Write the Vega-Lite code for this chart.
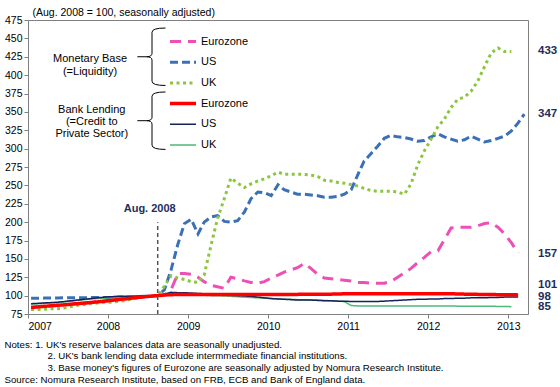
{
"$schema": "https://vega.github.io/schema/vega-lite/v6.json",
"width": 500, "height": 294,
"autosize": {"type": "none"},
"padding": {"left": 28, "top": 20, "right": 32, "bottom": 73},
"config": {
  "font": "Liberation Sans",
  "view": {"stroke": "#808080", "strokeWidth": 1},
  "axis": {"grid": false, "domainColor": "#808080", "tickColor": "#808080", "tickSize": 4, "labelFontSize": 10.5, "labelColor": "#000", "labelFont": "Liberation Sans"}
},
"title": {
  "text": ["Notes: 1. UK's reserve balances data are seasonally unadjusted.",
           "\u200b\u00a0\u00a0\u00a0\u00a0\u00a0\u00a0\u00a0\u00a0\u00a0\u00a0\u00a0\u00a0\u00a0\u00a0\u00a0\u00a02. UK's bank lending data exclude intermmediate financial institutions.",
           "\u200b\u00a0\u00a0\u00a0\u00a0\u00a0\u00a0\u00a0\u00a0\u00a0\u00a0\u00a0\u00a0\u00a0\u00a0\u00a0\u00a03. Base money's figures of Eurozone are seasonally adjusted by Nomura Research Institute.",
           "Source: Nomura Research Institute, based on FRB, ECB and Bank of England data."],
  "orient": "bottom", "anchor": "start", "frame": "bounds", "fontSize": 9.7, "fontWeight": "normal", "lineHeight": 11.7, "offset": 8, "color": "#000", "font": "Liberation Sans"
},
"data": {"values": [
{"d":"2007-01-15","mbEZ":84,"mbUS":96.5,"mbUK":81,"blEZ":84,"blUS":89,"blUK":88.5},
{"d":"2007-02-15","mbEZ":84.7,"mbUS":96.5,"mbUK":81,"blEZ":84.7,"blUS":89.5,"blUK":89},
{"d":"2007-03-15","mbEZ":85.4,"mbUS":96.6,"mbUK":81.5,"blEZ":85.4,"blUS":90,"blUK":89.5},
{"d":"2007-04-15","mbEZ":86.1,"mbUS":96.7,"mbUK":82,"blEZ":86.1,"blUS":90.5,"blUK":90},
{"d":"2007-05-15","mbEZ":86.8,"mbUS":96.8,"mbUK":82,"blEZ":86.8,"blUS":91,"blUK":90.5},
{"d":"2007-06-15","mbEZ":87.5,"mbUS":97,"mbUK":83,"blEZ":87.5,"blUS":92,"blUK":91.5},
{"d":"2007-07-15","mbEZ":88.3,"mbUS":97,"mbUK":85,"blEZ":88.3,"blUS":93,"blUK":92.5},
{"d":"2007-08-15","mbEZ":89.1,"mbUS":97.1,"mbUK":87,"blEZ":89.1,"blUS":94,"blUK":93.5},
{"d":"2007-09-15","mbEZ":89.9,"mbUS":97.2,"mbUK":88,"blEZ":89.9,"blUS":95,"blUK":94.5},
{"d":"2007-10-15","mbEZ":90.7,"mbUS":97.3,"mbUK":89,"blEZ":90.7,"blUS":96,"blUK":95.5},
{"d":"2007-11-15","mbEZ":91.5,"mbUS":97.4,"mbUK":90,"blEZ":91.5,"blUS":97,"blUK":96},
{"d":"2007-12-15","mbEZ":92.5,"mbUS":97.5,"mbUK":91,"blEZ":92.5,"blUS":98,"blUK":96.5},
{"d":"2008-01-15","mbEZ":93.5,"mbUS":97.6,"mbUK":91,"blEZ":93.5,"blUS":98.5,"blUK":97},
{"d":"2008-02-15","mbEZ":94.5,"mbUS":97.8,"mbUK":92,"blEZ":94.5,"blUS":99,"blUK":97.5},
{"d":"2008-03-15","mbEZ":95.5,"mbUS":98,"mbUK":93,"blEZ":95.5,"blUS":99,"blUK":98},
{"d":"2008-04-15","mbEZ":96.5,"mbUS":98.3,"mbUK":95,"blEZ":96.5,"blUS":99,"blUK":98.5},
{"d":"2008-05-15","mbEZ":97.5,"mbUS":98.6,"mbUK":97,"blEZ":97.5,"blUS":99.5,"blUK":99},
{"d":"2008-06-15","mbEZ":98.5,"mbUS":99,"mbUK":98,"blEZ":98.5,"blUS":99.5,"blUK":99.5},
{"d":"2008-07-15","mbEZ":99.3,"mbUS":99.3,"mbUK":99,"blEZ":99.3,"blUS":100,"blUK":99.5},
{"d":"2008-08-15","mbEZ":100,"mbUS":100,"mbUK":100,"blEZ":100,"blUS":100,"blUK":100},
{"d":"2008-09-15","mbEZ":101,"mbUS":108,"mbUK":113,"blEZ":100.8,"blUS":102,"blUK":101},
{"d":"2008-10-15","mbEZ":108,"mbUS":135,"mbUK":127,"blEZ":101.3,"blUS":104.5,"blUK":102},
{"d":"2008-11-15","mbEZ":130,"mbUS":170,"mbUK":124,"blEZ":101.5,"blUS":104,"blUK":102},
{"d":"2008-12-15","mbEZ":130,"mbUS":198,"mbUK":122,"blEZ":101.5,"blUS":104,"blUK":101.5},
{"d":"2009-01-15","mbEZ":129,"mbUS":204,"mbUK":119,"blEZ":101.5,"blUS":103.5,"blUK":101},
{"d":"2009-02-15","mbEZ":125,"mbUS":184,"mbUK":118,"blEZ":101.5,"blUS":103,"blUK":101},
{"d":"2009-03-15","mbEZ":119,"mbUS":200,"mbUK":128,"blEZ":101.5,"blUS":102.5,"blUK":100.5},
{"d":"2009-04-15","mbEZ":114,"mbUS":207,"mbUK":168,"blEZ":101.5,"blUS":102,"blUK":100},
{"d":"2009-05-15","mbEZ":112,"mbUS":209,"mbUK":205,"blEZ":101.5,"blUS":101.5,"blUK":100},
{"d":"2009-06-15","mbEZ":110,"mbUS":201,"mbUK":232,"blEZ":101.5,"blUS":101,"blUK":99.5},
{"d":"2009-07-15","mbEZ":125,"mbUS":200,"mbUK":260,"blEZ":101.5,"blUS":100.5,"blUK":99},
{"d":"2009-08-15","mbEZ":123,"mbUS":202,"mbUK":253,"blEZ":101.5,"blUS":100,"blUK":98.5},
{"d":"2009-09-15","mbEZ":120,"mbUS":214,"mbUK":247,"blEZ":101.5,"blUS":99.5,"blUK":98},
{"d":"2009-10-15","mbEZ":118,"mbUS":232,"mbUK":252,"blEZ":101.5,"blUS":99,"blUK":97.5},
{"d":"2009-11-15","mbEZ":117,"mbUS":241,"mbUK":256,"blEZ":101.5,"blUS":98,"blUK":97},
{"d":"2009-12-15","mbEZ":119,"mbUS":240,"mbUK":259,"blEZ":101.5,"blUS":97,"blUK":96.5},
{"d":"2010-01-15","mbEZ":124,"mbUS":236,"mbUK":263,"blEZ":101.5,"blUS":96,"blUK":96},
{"d":"2010-02-15","mbEZ":128,"mbUS":251,"mbUK":268,"blEZ":101.5,"blUS":95.5,"blUK":95.5},
{"d":"2010-03-15","mbEZ":132,"mbUS":244,"mbUK":265,"blEZ":101.5,"blUS":95,"blUK":95},
{"d":"2010-04-15","mbEZ":135,"mbUS":241,"mbUK":265,"blEZ":101.5,"blUS":94.5,"blUK":95},
{"d":"2010-05-15","mbEZ":138,"mbUS":238,"mbUK":265,"blEZ":101.7,"blUS":94,"blUK":94.5},
{"d":"2010-06-15","mbEZ":144,"mbUS":238,"mbUK":265,"blEZ":102,"blUS":94,"blUK":94.5},
{"d":"2010-07-15","mbEZ":137,"mbUS":237,"mbUK":264,"blEZ":102,"blUS":94,"blUK":94},
{"d":"2010-08-15","mbEZ":129,"mbUS":236,"mbUK":262,"blEZ":102,"blUS":93.5,"blUK":94},
{"d":"2010-09-15","mbEZ":124,"mbUS":234,"mbUK":257,"blEZ":102,"blUS":93,"blUK":93.5},
{"d":"2010-10-15","mbEZ":123,"mbUS":234,"mbUK":256,"blEZ":102,"blUS":93,"blUK":93},
{"d":"2010-11-15","mbEZ":122,"mbUS":235,"mbUK":254,"blEZ":102.2,"blUS":92.5,"blUK":92.5},
{"d":"2010-12-15","mbEZ":121,"mbUS":238,"mbUK":253,"blEZ":102.5,"blUS":92.5,"blUK":92},
{"d":"2011-01-15","mbEZ":120,"mbUS":244,"mbUK":251,"blEZ":102.5,"blUS":92,"blUK":86.5},
{"d":"2011-02-15","mbEZ":118,"mbUS":265,"mbUK":249,"blEZ":102.7,"blUS":92,"blUK":86},
{"d":"2011-03-15","mbEZ":118,"mbUS":283,"mbUK":246,"blEZ":102.7,"blUS":92,"blUK":86},
{"d":"2011-04-15","mbEZ":117,"mbUS":293,"mbUK":243,"blEZ":102.7,"blUS":92,"blUK":86},
{"d":"2011-05-15","mbEZ":117,"mbUS":303,"mbUK":242,"blEZ":102.7,"blUS":92,"blUK":86},
{"d":"2011-06-15","mbEZ":117,"mbUS":314,"mbUK":242,"blEZ":102.7,"blUS":92.5,"blUK":86},
{"d":"2011-07-15","mbEZ":119,"mbUS":318,"mbUK":242,"blEZ":102.7,"blUS":93,"blUK":86},
{"d":"2011-08-15","mbEZ":125,"mbUS":316,"mbUK":241,"blEZ":102.7,"blUS":93.5,"blUK":86},
{"d":"2011-09-15","mbEZ":131,"mbUS":315,"mbUK":238,"blEZ":102.7,"blUS":94,"blUK":86},
{"d":"2011-10-15","mbEZ":137,"mbUS":313,"mbUK":252,"blEZ":102.7,"blUS":94.5,"blUK":86},
{"d":"2011-11-15","mbEZ":145,"mbUS":310,"mbUK":278,"blEZ":102.7,"blUS":95,"blUK":86},
{"d":"2011-12-15","mbEZ":152,"mbUS":311,"mbUK":297,"blEZ":102.7,"blUS":95,"blUK":86},
{"d":"2012-01-15","mbEZ":160,"mbUS":316,"mbUK":313,"blEZ":102.7,"blUS":95.5,"blUK":86},
{"d":"2012-02-15","mbEZ":161,"mbUS":320,"mbUK":330,"blEZ":102.5,"blUS":95.5,"blUK":85.8},
{"d":"2012-03-15","mbEZ":176,"mbUS":316,"mbUK":340,"blEZ":102.5,"blUS":96,"blUK":85.8},
{"d":"2012-04-15","mbEZ":192,"mbUS":313,"mbUK":356,"blEZ":102.5,"blUS":96,"blUK":85.8},
{"d":"2012-05-15","mbEZ":193,"mbUS":310,"mbUK":367,"blEZ":102.3,"blUS":96.5,"blUK":85.7},
{"d":"2012-06-15","mbEZ":193,"mbUS":312,"mbUK":370,"blEZ":102,"blUS":96.5,"blUK":85.7},
{"d":"2012-07-15","mbEZ":193,"mbUS":317,"mbUK":378,"blEZ":102,"blUS":97,"blUK":85.6},
{"d":"2012-08-15","mbEZ":195,"mbUS":313,"mbUK":392,"blEZ":101.7,"blUS":97,"blUK":85.5},
{"d":"2012-09-15","mbEZ":198,"mbUS":309,"mbUK":412,"blEZ":101.5,"blUS":97,"blUK":85.5},
{"d":"2012-10-15","mbEZ":199,"mbUS":311,"mbUK":430,"blEZ":101.5,"blUS":97.5,"blUK":85.5},
{"d":"2012-11-15","mbEZ":193,"mbUS":314,"mbUK":437,"blEZ":101.3,"blUS":97.5,"blUK":85.3},
{"d":"2012-12-15","mbEZ":184,"mbUS":317,"mbUK":432,"blEZ":101.2,"blUS":98,"blUK":85.2},
{"d":"2013-01-15","mbEZ":172,"mbUS":324,"mbUK":432,"blEZ":101.1,"blUS":98,"blUK":85},
{"d":"2013-02-15","mbEZ":158,"mbUS":335,"mbUK":null,"blEZ":101,"blUS":98,"blUK":null},
{"d":"2013-03-15","mbEZ":null,"mbUS":347,"mbUK":null,"blEZ":null,"blUS":null,"blUK":null}
]},
"layer": [
  {
    "encoding": {
      "x": {"field": "d", "type": "temporal",
            "scale": {"type": "utc", "domain": [{"year": 2007, "month": 1, "date": 1, "utc": true}, {"year": 2013, "month": 4, "date": 1, "utc": true}]},
            "axis": {"title": null, "format": "%Y", "tickCount": {"interval": "year", "step": 1}, "labelPadding": 3}},
      "y": {"field": "v", "type": "quantitative",
            "scale": {"domain": [75, 475], "nice": false, "zero": false},
            "axis": {"values": [75,100,125,150,175,200,225,250,275,300,325,350,375,400,425,450,475], "labelPadding": 2,
                     "title": "(Aug. 2008 = 100, seasonally adjusted)", "titleAngle": 0, "titleAlign": "left", "titleBaseline": "middle",
                     "titleX": 4, "titleY": -8, "titleFontWeight": "normal", "titleFontSize": 10.5, "titleColor": "#000", "titleFont": "Liberation Sans"}},
      "color": {"field": "s", "type": "nominal",
        "scale": {"domain": ["mbEZ", "mbUS", "mbUK", "blEZ", "blUS", "blUK"], "range": ["#EE4FB6", "#3A70B6", "#8CC63F", "#FF0000", "#16215A", "#4DB87A"]},
        "legend": {"orient": "none", "legendX": 140, "legendY": 13.5, "title": null, "symbolType": "stroke", "symbolSize": 676,
                   "labelFontSize": 11, "labelColor": "#000", "labelFont": "Liberation Sans", "labelOffset": 3, "rowPadding": 4.7, "clipHeight": 16, "symbolOpacity": 1, "padding": 0,
                   "labelExpr": "indexof(datum.value, 'EZ') >= 0 ? 'Eurozone' : (indexof(datum.value, 'US') >= 0 ? 'US' : 'UK')"}},
      "strokeDash": {"field": "s", "type": "nominal",
        "scale": {"domain": ["mbEZ", "mbUS", "mbUK", "blEZ", "blUS", "blUK"], "range": [[11, 7], [8, 4], [3, 3.5], [1, 0], [1, 0], [1, 0]]}},
      "strokeWidth": {"field": "s", "type": "nominal",
        "scale": {"type": "ordinal", "domain": ["mbEZ", "mbUS", "mbUK", "blEZ", "blUS", "blUK"], "range": [3, 3, 3, 3.5, 1.5, 1.5]}}
    },
    "layer": [
      {
        "transform": [{"fold": ["mbEZ", "mbUS", "mbUK"], "as": ["s", "v"]}, {"filter": "datum.v != null"}],
        "mark": {"type": "line"}
      },
      {
        "transform": [{"fold": ["blUK", "blUS", "blEZ"], "as": ["s", "v"]}, {"filter": "datum.v != null"}],
        "mark": {"type": "line"}
      }
    ]
  },
  {
    "data": {"values": [{"k": 1}]},
    "mark": {"type": "rule", "color": "#555555", "strokeWidth": 1.5, "strokeDash": [4, 3]},
    "encoding": {
      "x": {"datum": {"year": 2008, "month": 8, "date": 15, "utc": true}, "type": "temporal",
            "axis": {"title": null, "format": "%Y", "tickCount": {"interval": "year", "step": 1}, "labelPadding": 3}},
      "y": {"datum": 75,
            "axis": {"values": [75,100,125,150,175,200,225,250,275,300,325,350,375,400,425,450,475], "labelPadding": 2,
                     "title": "(Aug. 2008 = 100, seasonally adjusted)", "titleAngle": 0, "titleAlign": "left", "titleBaseline": "middle",
                     "titleX": 4, "titleY": -8, "titleFontWeight": "normal", "titleFontSize": 10.5, "titleColor": "#000", "titleFont": "Liberation Sans"}},
      "y2": {"datum": 200}
    }
  },
  {
    "data": {"values": [{"t": "Aug. 2008"}]},
    "mark": {"type": "text", "fontWeight": "bold", "fontSize": 11, "color": "#1F2D5C", "dx": -8, "baseline": "middle"},
    "encoding": {
      "x": {"datum": {"year": 2008, "month": 8, "date": 15, "utc": true}, "type": "temporal",
            "axis": {"title": null, "format": "%Y", "tickCount": {"interval": "year", "step": 1}, "labelPadding": 3}},
      "y": {"datum": 218,
            "axis": {"values": [75,100,125,150,175,200,225,250,275,300,325,350,375,400,425,450,475], "labelPadding": 2,
                     "title": "(Aug. 2008 = 100, seasonally adjusted)", "titleAngle": 0, "titleAlign": "left", "titleBaseline": "middle",
                     "titleX": 4, "titleY": -8, "titleFontWeight": "normal", "titleFontSize": 10.5, "titleColor": "#000", "titleFont": "Liberation Sans"}},
      "text": {"field": "t"}
    }
  },
  {
    "data": {"values": [{"lab": "433", "v": 433}, {"lab": "347", "v": 347}, {"lab": "157", "v": 157}, {"lab": "98", "v": 98}, {"lab": "85", "v": 85}]},
    "mark": {"type": "text", "x": "width", "dx": 10, "align": "left", "baseline": "middle", "fontWeight": "bold", "fontSize": 11.5, "color": "#1F2D5C"},
    "encoding": {
      "y": {"field": "v", "type": "quantitative",
            "axis": {"values": [75,100,125,150,175,200,225,250,275,300,325,350,375,400,425,450,475], "labelPadding": 2,
                     "title": "(Aug. 2008 = 100, seasonally adjusted)", "titleAngle": 0, "titleAlign": "left", "titleBaseline": "middle",
                     "titleX": 4, "titleY": -8, "titleFontWeight": "normal", "titleFontSize": 10.5, "titleColor": "#000", "titleFont": "Liberation Sans"}},
      "text": {"field": "lab"}}
  },
  {
    "data": {"values": [{"lab": "101", "v": 101}]},
    "mark": {"type": "text", "x": "width", "dx": 10, "dy": -10, "align": "left", "baseline": "middle", "fontWeight": "bold", "fontSize": 11.5, "color": "#1F2D5C"},
    "encoding": {
      "y": {"field": "v", "type": "quantitative",
            "axis": {"values": [75,100,125,150,175,200,225,250,275,300,325,350,375,400,425,450,475], "labelPadding": 2,
                     "title": "(Aug. 2008 = 100, seasonally adjusted)", "titleAngle": 0, "titleAlign": "left", "titleBaseline": "middle",
                     "titleX": 4, "titleY": -8, "titleFontWeight": "normal", "titleFontSize": 10.5, "titleColor": "#000", "titleFont": "Liberation Sans"}},
      "text": {"field": "lab"}}
  },
  {
    "data": {"values": [{"t": ["Monetary Base", "(=Liquidity)"]}]},
    "mark": {"type": "text", "fontSize": 11, "lineHeight": 12.7, "baseline": "middle", "align": "center", "color": "#000"},
    "encoding": {
      "x": {"datum": {"year": 2007, "month": 10, "date": 11, "utc": true}, "type": "temporal",
            "axis": {"title": null, "format": "%Y", "tickCount": {"interval": "year", "step": 1}, "labelPadding": 3}},
      "y": {"datum": 421.5,
            "axis": {"values": [75,100,125,150,175,200,225,250,275,300,325,350,375,400,425,450,475], "labelPadding": 2,
                     "title": "(Aug. 2008 = 100, seasonally adjusted)", "titleAngle": 0, "titleAlign": "left", "titleBaseline": "middle",
                     "titleX": 4, "titleY": -8, "titleFontWeight": "normal", "titleFontSize": 10.5, "titleColor": "#000", "titleFont": "Liberation Sans"}},
      "text": {"field": "t"}
    }
  },
  {
    "data": {"values": [{"t": ["Bank Lending", "(=Credit to", "Private Sector)"]}]},
    "mark": {"type": "text", "fontSize": 11, "lineHeight": 12.2, "baseline": "middle", "align": "center", "color": "#000"},
    "encoding": {
      "x": {"datum": {"year": 2007, "month": 10, "date": 19, "utc": true}, "type": "temporal",
            "axis": {"title": null, "format": "%Y", "tickCount": {"interval": "year", "step": 1}, "labelPadding": 3}},
      "y": {"datum": 352.5,
            "axis": {"values": [75,100,125,150,175,200,225,250,275,300,325,350,375,400,425,450,475], "labelPadding": 2,
                     "title": "(Aug. 2008 = 100, seasonally adjusted)", "titleAngle": 0, "titleAlign": "left", "titleBaseline": "middle",
                     "titleX": 4, "titleY": -8, "titleFontWeight": "normal", "titleFontSize": 10.5, "titleColor": "#000", "titleFont": "Liberation Sans"}},
      "text": {"field": "t"}
    }
  },
  {
    "data": {"values": [{"k": 1}]},
    "mark": {"type": "point", "shape": "M0.47,-1Q0,-1 0,-0.85L0,-0.12Q0,0 -0.19,0Q0,0 0,0.12L0,0.85Q0,1 0.47,1M-0.19,0L-0.51,0", "filled": false, "stroke": "#000", "strokeWidth": 1, "opacity": 1, "size": 3300},
    "encoding": {
      "x": {"datum": {"year": 2008, "month": 7, "date": 20, "utc": true}, "type": "temporal",
            "axis": {"title": null, "format": "%Y", "tickCount": {"interval": "year", "step": 1}, "labelPadding": 3}},
      "y": {"datum": 425,
            "axis": {"values": [75,100,125,150,175,200,225,250,275,300,325,350,375,400,425,450,475], "labelPadding": 2,
                     "title": "(Aug. 2008 = 100, seasonally adjusted)", "titleAngle": 0, "titleAlign": "left", "titleBaseline": "middle",
                     "titleX": 4, "titleY": -8, "titleFontWeight": "normal", "titleFontSize": 10.5, "titleColor": "#000", "titleFont": "Liberation Sans"}}
    }
  },
  {
    "data": {"values": [{"k": 1}]},
    "mark": {"type": "point", "shape": "M0.47,-1Q0,-1 0,-0.85L0,-0.12Q0,0 -0.19,0Q0,0 0,0.12L0,0.85Q0,1 0.47,1M-0.19,0L-0.51,0", "filled": false, "stroke": "#000", "strokeWidth": 1, "opacity": 1, "size": 3300},
    "encoding": {
      "x": {"datum": {"year": 2008, "month": 7, "date": 20, "utc": true}, "type": "temporal",
            "axis": {"title": null, "format": "%Y", "tickCount": {"interval": "year", "step": 1}, "labelPadding": 3}},
      "y": {"datum": 338,
            "axis": {"values": [75,100,125,150,175,200,225,250,275,300,325,350,375,400,425,450,475], "labelPadding": 2,
                     "title": "(Aug. 2008 = 100, seasonally adjusted)", "titleAngle": 0, "titleAlign": "left", "titleBaseline": "middle",
                     "titleX": 4, "titleY": -8, "titleFontWeight": "normal", "titleFontSize": 10.5, "titleColor": "#000", "titleFont": "Liberation Sans"}}
    }
  }
]
}
